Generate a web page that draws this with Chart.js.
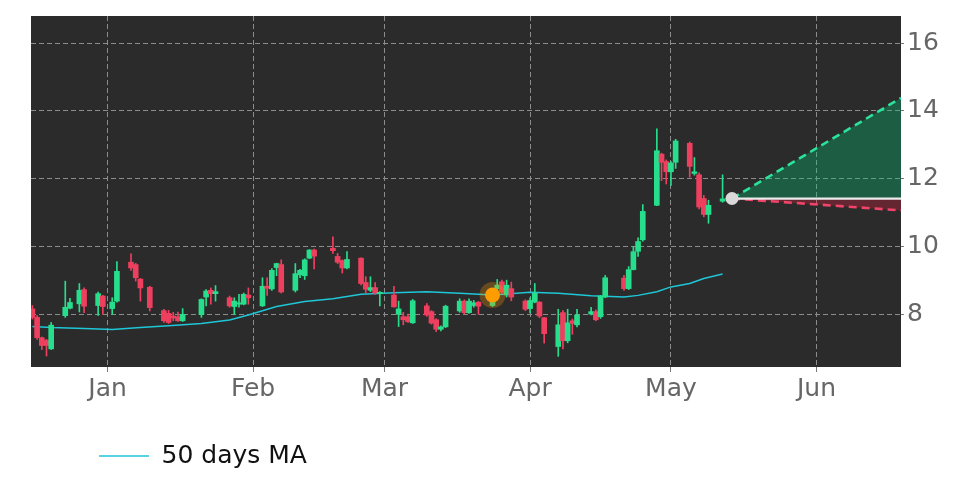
<!DOCTYPE html>
<html><head><meta charset="utf-8">
<script src="https://cdn.jsdelivr.net/npm/chart.js@4"></script>
<style>html,body{margin:0;padding:0;background:#ffffff}#wrap{width:972px;height:486px}</style>
</head><body><div id="wrap"><canvas id="c" width="972" height="486"></canvas></div>
<script>
// ---------- data ----------
const dates = [
'2024-12-16','2024-12-17','2024-12-18','2024-12-19','2024-12-20',
'2024-12-23','2024-12-24','2024-12-26','2024-12-27','2024-12-30','2024-12-31',
'2025-01-02','2025-01-03','2025-01-06','2025-01-07','2025-01-08','2025-01-10',
'2025-01-13','2025-01-14','2025-01-15','2025-01-16','2025-01-17',
'2025-01-21','2025-01-22','2025-01-23','2025-01-24',
'2025-01-27','2025-01-28','2025-01-29','2025-01-30','2025-01-31',
'2025-02-03','2025-02-04','2025-02-05','2025-02-06','2025-02-07',
'2025-02-10','2025-02-11','2025-02-12','2025-02-13','2025-02-14',
'2025-02-18','2025-02-19','2025-02-20','2025-02-21',
'2025-02-24','2025-02-25','2025-02-26','2025-02-27','2025-02-28',
'2025-03-03','2025-03-04','2025-03-05','2025-03-06','2025-03-07',
'2025-03-10','2025-03-11','2025-03-12','2025-03-13','2025-03-14',
'2025-03-17','2025-03-18','2025-03-19','2025-03-20','2025-03-21',
'2025-03-24','2025-03-25','2025-03-26','2025-03-27','2025-03-28',
'2025-03-31','2025-04-01','2025-04-02','2025-04-03','2025-04-04',
'2025-04-07','2025-04-08','2025-04-09','2025-04-10','2025-04-11',
'2025-04-14','2025-04-15','2025-04-16','2025-04-17',
'2025-04-21','2025-04-22','2025-04-23','2025-04-24','2025-04-25',
'2025-04-28','2025-04-29','2025-04-30','2025-05-01','2025-05-02',
'2025-05-05','2025-05-06','2025-05-07','2025-05-08','2025-05-09',
'2025-05-12'];
const opens = [
8.15,7.9,7.3,7.22,6.97,
7.95,8.17,8.3,8.72,8.25,8.53,
8.16,8.38,9.53,9.46,9.03,8.79,
8.1,8.02,7.94,7.92,7.8,
7.98,8.5,8.7,8.6,
8.48,8.22,8.29,8.29,8.56,
8.24,8.82,8.74,9.37,9.46,
8.7,9.16,9.13,9.65,9.89,
9.94,9.7,9.58,9.36,
9.65,8.93,8.7,8.78,8.6,
8.56,7.99,7.92,7.92,7.74,
8.24,8.07,7.83,7.55,7.62,
8.09,8.38,8.04,8.25,8.35,
8.25,8.75,8.95,8.56,8.75,
8.38,8.16,8.35,8.35,7.89,
7.04,8.04,7.21,7.8,7.68,
8.0,8.07,7.92,8.5,
9.06,8.75,9.31,9.85,10.19,
11.21,12.72,12.5,12.2,12.48,
13.04,12.15,12.11,11.41,10.94,
11.33];
const highs = [
8.25,7.95,7.32,7.25,7.75,
8.97,8.46,8.9,8.77,8.65,8.55,
8.48,9.55,9.78,9.5,9.05,8.82,
8.14,8.11,8.05,8.06,8.16,
8.45,8.72,8.77,8.84,
8.53,8.48,8.58,8.62,8.77,
9.07,9.07,9.34,9.5,9.6,
9.49,9.32,9.63,9.9,9.92,
10.28,9.79,9.6,9.84,
9.66,9.1,9.1,8.93,8.66,
8.82,8.38,8.05,8.0,8.43,
8.31,8.1,7.86,7.65,8.26,
8.45,8.42,8.45,8.4,8.37,
8.75,9.02,9.0,9.0,8.94,
8.42,8.48,8.9,8.37,7.9,
8.14,8.1,8.14,7.85,8.14,
8.2,8.12,8.55,9.14,
9.14,9.4,9.99,10.25,11.23,
13.47,12.75,12.55,12.5,13.16,
13.08,12.62,12.17,11.5,11.36,
12.11];
const lows = [
7.85,7.25,6.95,6.76,6.95,
7.9,8.15,8.06,8.04,7.96,7.99,
7.99,8.35,9.29,8.97,8.38,8.09,
7.75,7.72,7.8,7.78,7.78,
7.9,8.24,8.29,8.38,
8.2,7.99,8.2,8.27,8.29,
8.22,8.55,8.7,9.13,8.62,
8.65,9.07,9.02,9.63,9.33,
9.79,9.49,9.21,9.33,
8.86,8.62,8.66,8.58,8.24,
8.2,7.63,7.68,7.75,7.72,
7.93,7.7,7.48,7.5,7.6,
8.05,8.0,8.02,8.2,7.99,
8.22,8.6,8.6,8.5,8.39,
8.1,8.03,8.33,7.89,7.14,
6.75,6.97,7.15,7.4,7.62,
7.97,7.8,7.87,8.48,
8.7,8.72,9.3,9.7,10.15,
11.2,11.94,11.84,11.8,12.3,
12.04,12.1,11.1,10.87,10.68,
11.3];
const closes = [
7.9,7.3,7.07,7.07,7.67,
8.2,8.34,8.7,8.23,8.6,8.22,
8.35,9.26,9.36,9.07,8.77,8.19,
7.8,7.75,7.88,7.8,7.99,
8.43,8.68,8.6,8.66,
8.24,8.38,8.33,8.58,8.48,
8.82,8.76,9.29,9.49,8.65,
9.19,9.29,9.6,9.89,9.71,
9.87,9.53,9.36,9.61,
8.9,8.73,8.78,8.62,8.64,
8.21,8.15,7.83,7.77,8.39,
7.97,7.73,7.55,7.62,8.23,
8.38,8.04,8.38,8.33,8.23,
8.55,8.85,8.64,8.85,8.5,
8.14,8.4,8.61,7.94,7.42,
7.68,7.21,7.74,7.72,7.97,
8.07,7.83,8.53,9.07,
8.75,9.31,9.84,10.14,11.03,
12.82,12.48,12.2,12.46,13.11,
12.36,12.2,11.16,10.94,11.21,
11.4];
const maDates = ['2024-12-16','2024-12-20','2024-12-27','2025-01-02','2025-01-08','2025-01-14','2025-01-21','2025-01-27','2025-01-31','2025-02-06','2025-02-12','2025-02-18','2025-02-24','2025-03-03','2025-03-10','2025-03-17','2025-03-24','2025-04-01','2025-04-07','2025-04-14','2025-04-21','2025-04-24','2025-04-28','2025-05-01','2025-05-05','2025-05-08','2025-05-12'];
const maValues = [7.63,7.6,7.57,7.54,7.6,7.65,7.72,7.82,7.97,8.22,8.37,8.45,8.58,8.63,8.66,8.61,8.56,8.64,8.61,8.54,8.5,8.55,8.66,8.8,8.9,9.05,9.18];
const signalDate = '2025-03-24';
const signalValue = 8.56;
const forecastDates = ['2025-05-14','2025-06-19'];
const forecastBase = [11.41, 11.41];
const forecastHigh = [11.41, 14.38];
const forecastLow = [11.41, 11.06];
const monthTickDates = ['2025-01-01','2025-02-01','2025-03-01','2025-04-01','2025-05-01','2025-06-01'];
const monthTickLabels = ['Jan','Feb','Mar','Apr','May','Jun'];
const yTickValues = [8, 10, 12, 14, 16];

// ---------- helpers ----------
const ORIGIN = Date.UTC(2025, 0, 1);
function dayNum(s){ const p = s.split('-').map(Number); return (Date.UTC(p[0], p[1]-1, p[2]) - ORIGIN) / 86400000; }
const UP = '#27de8d', DOWN = '#ef3f5f';
const candleColors = closes.map((c,i) => c >= opens[i] ? UP : DOWN);
const FONT = 'DejaVu Sans';

const bgPlugin = {
  id: 'plotBg',
  beforeDraw(chart){
    const a = chart.chartArea, ctx = chart.ctx;
    ctx.save();
    ctx.fillStyle = '#2b2b2b';
    ctx.fillRect(a.left, a.top, a.right - a.left, a.bottom - a.top);
    ctx.restore();
  }
};

new Chart(document.getElementById('c'), {
  type: 'bar',
  data: {
    datasets: [
      { type: 'line', label: '50 days MA', data: maDates.map((d,i)=>({x: dayNum(d), y: maValues[i]})),
        borderColor: '#1fc6d6', backgroundColor: '#1fc6d6', borderWidth: 1.5, pointRadius: 0, tension: 0, order: 6 },
      { type: 'bar', label: 'wick', data: dates.map((d,i)=>({x: dayNum(d), y: [lows[i], highs[i]]})),
        backgroundColor: candleColors, barThickness: 1, grouped: false, borderWidth: 0, order: 5 },
      { type: 'bar', label: 'body', data: dates.map((d,i)=>({x: dayNum(d), y: [opens[i], closes[i]]})),
        backgroundColor: candleColors, barThickness: 5, grouped: false, borderWidth: 0, minBarLength: 1, order: 4 },
      { type: 'line', label: 'base', data: forecastDates.map((d,i)=>({x: dayNum(d), y: forecastBase[i]})),
        borderColor: '#ececec', borderWidth: 2.2, pointRadius: 0, fill: false, order: 1 },
      { type: 'line', label: 'high', data: forecastDates.map((d,i)=>({x: dayNum(d), y: forecastHigh[i]})),
        borderColor: '#2be39a', borderWidth: 2.6, borderDash: [8,5], pointRadius: 0,
        fill: 3, backgroundColor: 'rgba(0,200,120,0.32)', order: 2 },
      { type: 'line', label: 'low', data: forecastDates.map((d,i)=>({x: dayNum(d), y: forecastLow[i]})),
        borderColor: '#f04468', borderWidth: 2.6, borderDash: [8,5], pointRadius: 0,
        fill: 3, backgroundColor: 'rgba(220,30,65,0.32)', order: 2 },
      { type: 'line', label: 'halo', data: [{x: dayNum(signalDate), y: signalValue}], showLine: false,
        pointRadius: 13, pointBackgroundColor: 'rgba(255,150,0,0.28)', pointBorderWidth: 0, order: 0 },
      { type: 'line', label: 'signal', data: [{x: dayNum(signalDate), y: signalValue}], showLine: false,
        pointRadius: 7.5, pointBackgroundColor: '#ffa000', pointBorderWidth: 0, order: 0 },
      { type: 'line', label: 'last', data: [{x: dayNum(forecastDates[0]), y: forecastBase[0]}], showLine: false,
        pointRadius: 6.5, pointBackgroundColor: '#d9d9d9', pointBorderWidth: 0, order: 0 }
    ]
  },
  options: {
    responsive: false,
    animation: false,
    devicePixelRatio: 1,
    layout: { padding: { left: 31, top: 16, right: 0, bottom: 7.5 } },
    plugins: {
      tooltip: { enabled: false },
      legend: {
        position: 'bottom', align: 'start',
        labels: {
          filter: (item) => item.datasetIndex === 0,
          usePointStyle: true, pointStyle: 'line', pointStyleWidth: 50,
          padding: 68, color: '#111111', font: { family: FONT, size: 25 }
        }
      }
    },
    scales: {
      x: {
        type: 'linear', offset: false,
        min: -16.3, max: 169,
        afterBuildTicks: (s) => { s.ticks = monthTickDates.map(d => ({ value: dayNum(d) })); },
        afterFit: (s) => { s.height = 8.5; s.paddingLeft = 0; s.paddingRight = 0; },
        ticks: { autoSkip: false, maxRotation: 0, mirror: true, padding: -37, color: '#666666', font: { family: FONT, size: 25 },
                 callback: (v, i) => monthTickLabels[i] },
        grid: { offset: false, color: '#8c8c8c', lineWidth: 1, tickLength: 5, tickColor: '#777777', tickBorderDash: [] },
        border: { display: false, dash: [5, 3] }
      },
      y: {
        type: 'linear', position: 'right',
        min: 6.435, max: 16.8,
        afterBuildTicks: (s) => { s.ticks = yTickValues.map(v => ({ value: v })); },
        afterFit: (s) => { s.width = 71; s.paddingTop = 0; s.paddingBottom = 0; },
        ticks: { padding: 3, color: '#666666', font: { family: FONT, size: 25 } },
        grid: { color: '#8c8c8c', lineWidth: 1, tickLength: 3, tickColor: '#777777', tickBorderDash: [] },
        border: { display: false, dash: [5, 3] }
      }
    }
  },
  plugins: [bgPlugin]
});
</script></body></html>
